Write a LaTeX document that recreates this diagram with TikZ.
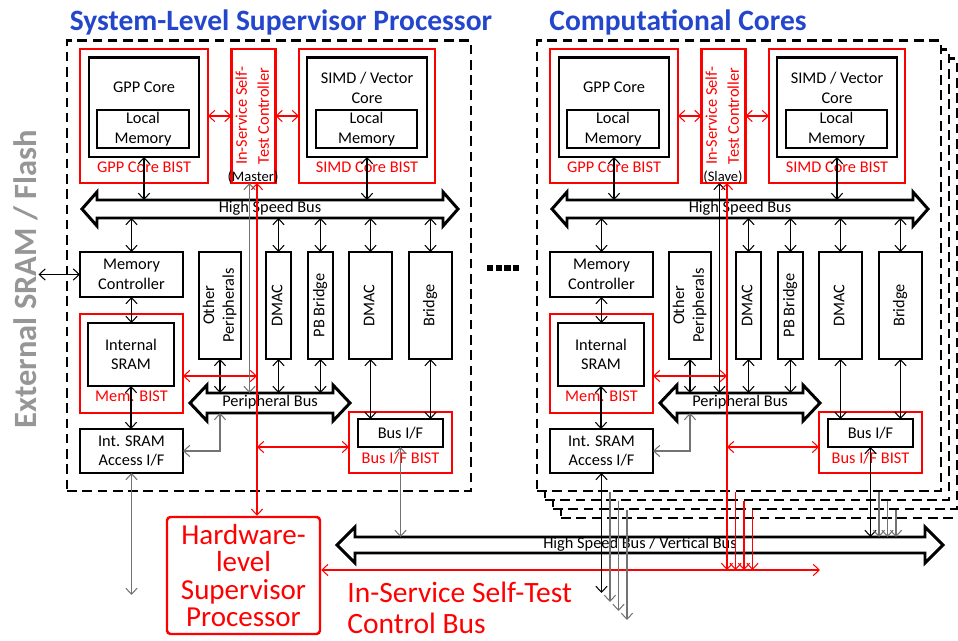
\documentclass[tikz,border=0pt]{standalone}
\usepackage{fontspec}
\setmainfont{Carlito}
\usetikzlibrary{arrows.meta, calc, positioning}
\definecolor{titleblue}{RGB}{35,70,205}
\definecolor{extgray}{RGB}{150,150,150}
\definecolor{wiregray}{RGB}{115,115,115}
\newcommand\pxu{0.02cm}
\newcommand\uptext[1]{\rotatebox{90}{\begin{tabular}{@{}c@{}}#1\end{tabular}}}
% bus outline drawn around a shaft node: name, head length, head overhang
\newcommand\busarrow[3]{%
  \draw[busline] (#1.north west) -- (#1.north east)
    -- ([yshift=#3*\pxu]#1.north east) -- ([xshift=#2*\pxu]#1.east)
    -- ([yshift=-#3*\pxu]#1.south east) -- (#1.south east)
    -- (#1.south west) -- ([yshift=-#3*\pxu]#1.south west)
    -- ([xshift=-#2*\pxu]#1.west) -- ([yshift=#3*\pxu]#1.north west) -- cycle;}
\tikzset{barb/.tip={Straight Barb[length=3.4pt, width=6.4pt]}}

\begin{document}
\begin{tikzpicture}[
  x=0.02cm, y=-0.02cm,
  font=\fontsize{9.3}{11.2}\selectfont,
  wh/.style 2 args={minimum width=#1*\pxu, minimum height=#2*\pxu},
  blk/.style={draw, line width=1.7pt, inner sep=0pt, outer sep=0pt, align=center},
  bist/.style={draw=red, line width=1.4pt, inner sep=0pt, outer sep=0pt, align=center},
  cage/.style={draw, fill=white, line width=1.7pt, dash pattern=on 5.5pt off 3.2pt, wh={404}{450}},
  shaft/.style={inner sep=0pt, outer sep=0pt, text height=5.5pt, text depth=1.5pt},
  busline/.style={line width=1.7pt, line join=miter},
  lmem/.style={blk, text height=11pt, text depth=0pt},
  dlink/.style={barb-barb, line width=0.6pt},
  glink/.style={dlink, draw=wiregray},
  rlink/.style={dlink, draw=red},
  gdown/.style={-barb, line width=0.6pt, draw=wiregray},
  rdown/.style={-barb, line width=0.6pt, draw=red},
  redtag/.style={text=red},
  headline/.style={font=\fontsize{16.8}{20}\bfseries\selectfont, text=titleblue},
  hspbox/.style={draw=red, line width=1.4pt, rounded corners=2pt, wh={153}{117}, text=red,
    align=center, inner sep=0pt, font=\fontsize{16.5}{15.6}\selectfont},
]
\useasboundingbox (0,0) rectangle (958,641);
\clip (0,0) rectangle (958,641);

% Titles
\node[headline] (sysT) at (281,22) {System-Level Supervisor Processor};
\node[headline] (ccT) at (678,22) {Computational Cores};

% Stacked computational cores (behind)
\foreach \k in {3,2,1}
  \node[cage] (stk\k) at ({739+8*\k},{266+9*\k}) {};

% Supervisor processor (L) and front computational core (R)
\foreach \dx/\cl/\role in {0/L/Master,470/R/Slave}{
  \node[cage] (\cl-cage) at (\dx+269,266) {};
  % cores and self-test controller
  \node[bist, wh={128}{134}, label={[redtag,anchor=center,yshift=16*\pxu]south:GPP Core BIST}] (\cl-gppB) at (\dx+144,116) {};
  \node[blk, wh={110}{99}, label={[anchor=center,yshift=-29*\pxu]north:GPP Core}] (\cl-gpp) at (\dx+144,107.5) {};
  \node[blk, wh={92}{38}] (\cl-gppM) at (\dx+143,129) {Local\\Memory};
  \node[bist, wh={43}{134}, text=red, font=\fontsize{9.3}{12.5}\selectfont] (\cl-isst) at (\dx+253.5,116) {\uptext{In-Service Self-\\Test Controller}};
  \node[font=\fontsize{8.3}{10}\selectfont] (\cl-role) at (\dx+253,177) {(\role)};
  \node[bist, wh={136}{134}, label={[redtag,anchor=center,yshift=16*\pxu]south:SIMD Core BIST}] (\cl-simdB) at (\dx+367,116) {};
  \node[blk, wh={120}{99}, label={[anchor=center,align=center,yshift=-30*\pxu]north:SIMD / Vector\\Core}] (\cl-simd) at (\dx+367,107.5) {};
  \node[blk, wh={101}{38}] (\cl-simdM) at (\dx+366.5,129) {Local\\Memory};
  \node[shaft, wh={346}{18}] (\cl-hsb) at (\dx+270,209) {High Speed Bus};
  \busarrow{\cl-hsb}{15}{8}
  % memory side and peripherals
  \node[blk, wh={103}{45}] (\cl-mc) at (\dx+131.5,274.5) {Memory\\Controller};
  \node[blk, wh={42}{107}] (\cl-oth) at (\dx+220,305.5) {\uptext{Other\\Peripherals}};
  \node[blk, wh={25}{107}] (\cl-dma1) at (\dx+278.5,305.5) {\uptext{DMAC}};
  \node[blk, wh={25}{107}] (\cl-pbb) at (\dx+320.5,305.5) {\uptext{PB Bridge}};
  \node[blk, wh={43}{107}] (\cl-dma2) at (\dx+370.5,305.5) {\uptext{DMAC}};
  \node[blk, wh={43}{107}] (\cl-brg) at (\dx+430.5,305.5) {\uptext{Bridge}};
  \node[bist, wh={103}{99}, label={[redtag,anchor=center,yshift=17*\pxu]south:Mem. BIST}] (\cl-memB) at (\dx+131.5,363.5) {};
  \node[blk, wh={86}{63}] (\cl-isram) at (\dx+131,354.5) {Internal\\SRAM};
  \node[blk, wh={103}{44}] (\cl-acc) at (\dx+131.5,451) {Int. SRAM\\Access I/F};
  \node[shaft, wh={126}{20}] (\cl-pb) at (\dx+270,403) {Peripheral Bus};
  \busarrow{\cl-pb}{17}{8}
  \node[bist, wh={103}{61}, label={[redtag,anchor=center,yshift=15*\pxu]south:Bus I/F BIST}] (\cl-busB) at (\dx+400.5,442.5) {};
  \node[blk, wh={85}{28}] (\cl-busif) at (\dx+400.5,433) {Bus I/F};
  % links
  \coordinate (\cl-red) at ([xshift=3.5*\pxu]\cl-isst.south);
  \coordinate (\cl-mst) at ([xshift=-4*\pxu]\cl-isst.south);
  \draw[dlink] (\cl-gpp.south) -- (\cl-gpp.south |- \cl-hsb.north);
  \draw[dlink] (\cl-simd.south) -- (\cl-simd.south |- \cl-hsb.north);
  \draw[rlink] (\cl-gppB.east) -- (\cl-isst.west);
  \draw[rlink] (\cl-isst.east) -- (\cl-simdB.west);
  \foreach \b in {mc,dma1,pbb,dma2,brg}
    \draw[dlink] (\cl-\b.north |- \cl-hsb.south) -- (\cl-\b.north);
  \draw[dlink] (\cl-mc.south) -- (\cl-mc.south |- \cl-isram.north);
  \draw[dlink] (\cl-isram.south) -- (\cl-isram.south |- \cl-acc.north);
  \foreach \b in {oth,dma1,pbb}
    \draw[dlink] (\cl-\b.south) -- (\cl-\b.south |- \cl-pb.north);
  \foreach \b in {dma2,brg}
    \draw[dlink] (\cl-\b.south) -- (\cl-\b.south |- \cl-busif.north);
  \draw[glink] (\cl-acc.east) -| (\cl-oth.south |- \cl-pb.south);
  \draw[rlink] (\cl-memB.east |- 0,376) -- (\cl-red |- 0,376);
  \draw[rlink] (\cl-red |- 0,447) -- (\cl-busB.west |- 0,447);
}
\draw[glink] (L-mst) -- (L-mst |- L-pb.north);
\draw[dlink] (R-mst) -- (R-mst |- R-pb.north);

% External memory
\node[font=\fontsize{18.5}{22}\bfseries\selectfont, text=extgray, inner sep=0pt] (ext) at (26,279) {\rotatebox{90}{External SRAM / Flash}};
\draw[dlink] (ext.east |- L-mc.west) -- (L-mc.west);

% more cores
\foreach \i in {0,...,3}
  \fill (487+8.7*\i,265) rectangle ++(6.3,6.5);

% Bottom: hardware supervisor and buses
\node[hspbox] (hsp) at (243.5,575.5) {Hardware-\\level\\Supervisor\\Processor};
\node[shaft, wh={570}{16}] (hsv) at (640,545) {High Speed Bus / Vertical Bus};
\busarrow{hsv}{18}{10}
\coordinate (cbEnd) at (820,570);
\draw[rlink] (hsp.east |- cbEnd) -- (cbEnd);
\node[text=red, font=\fontsize{16.8}{17.4}\selectfont, align=left, anchor=west, inner sep=0pt] (cbus) at (347,608) {In-Service Self-Test\\Control Bus};

\draw[rlink] (L-red) -- (L-red |- hsp.north);
\draw[glink] (L-acc.south) -- (L-acc.south |- 0,595);
\draw[glink] (L-busif.south) -- (L-busif.south |- hsv.north);
\draw[rlink] (R-red) -- (R-red |- cbEnd);
\draw[dlink] (R-acc.south) -- (R-acc.south |- 0,593);
\draw[dlink] (R-busif.south) -- (R-busif.south |- hsv.north);

% links of the cores behind
\foreach \k in {1,2,3}{
  \pgfmathsetmacro\yk{483+9*\k}
  \pgfmathsetmacro\ya{593+9*\k}
  \coordinate (acc\k) at ($(R-acc.south)+(8.5*\k,0)$);
  \coordinate (red\k) at ($(R-red)+(8.5*\k,0)$);
  \coordinate (bif\k) at ($(R-busif.south)+(8.5*\k,0)$);
  \draw[gdown] (acc\k |- 0,\yk) -- (acc\k |- 0,\ya);
  \draw[rdown] (red\k |- 0,\yk) -- (red\k |- cbEnd);
  \draw[gdown] (bif\k |- 0,\yk) -- (bif\k |- hsv.north);
}
\end{tikzpicture}
\end{document}
